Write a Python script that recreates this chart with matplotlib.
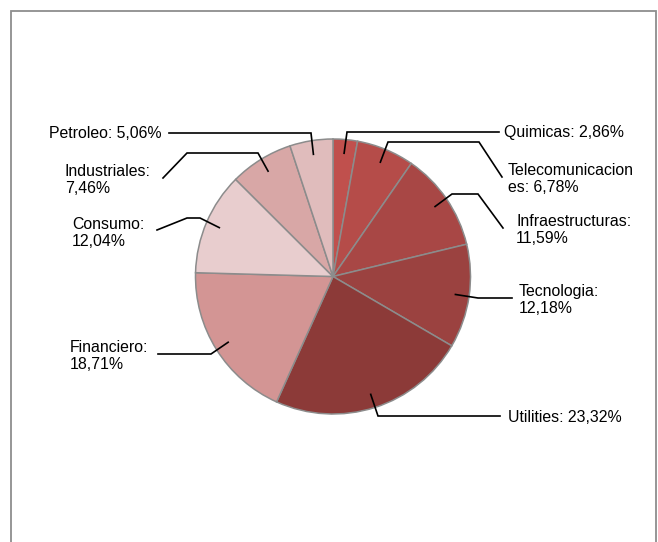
import numpy as np
import matplotlib
matplotlib.use("Agg")
import matplotlib.pyplot as plt

plt.rcParams['font.family'] = ['Liberation Sans', 'DejaVu Sans']

W, H = 658, 542

sectors = ["Quimicas", "Telecomunicaciones", "Infraestructuras", "Tecnologia",
           "Utilities", "Financiero", "Consumo", "Industriales", "Petroleo"]
shares = [2.86, 6.78, 11.59, 12.18, 23.32, 18.71, 12.04, 7.46, 5.06]
labels = ["Quimicas: 2,86%", "Telecomunicacion\nes: 6,78%", "Infraestructuras:\n11,59%",
          "Tecnologia:\n12,18%", "Utilities: 23,32%", "Financiero:\n18,71%",
          "Consumo:\n12,04%", "Industriales:\n7,46%", "Petroleo: 5,06%"]
colors = ["#C0504D", "#B54C49", "#A84745", "#9B4240", "#8C3A38",
          "#D39594", "#E8CDCE", "#D8A7A6", "#E0BCBC"]

# label layout in image pixels: (elbow points, text left x, text centre y)
layout = [
    ([(347, 132), (499, 132)], 504, 133),
    ([(388, 142), (479, 142), (502, 177)], 508, 179),
    ([(452, 194), (478, 194), (503, 228)], 516, 230),
    ([(478, 298), (512, 298)], 519, 300),
    ([(378, 416), (500, 416)], 508, 417),
    ([(211, 354), (158, 354)], 70, 356),
    ([(200, 218), (187, 218), (157, 230)], 72, 233),
    ([(258, 153), (187, 153), (163, 178)], 65, 180),
    ([(311, 133), (169, 133)], 49, 134),
]

cx, cy, r = 333, 276.5, 137.5

fig = plt.figure(figsize=(W / 100, H / 100), dpi=100)
ax = fig.add_axes([0, 0, 1, 1])

wedges, _ = ax.pie(shares, colors=colors, startangle=90, counterclock=False,
                   center=(cx, H - cy), radius=r,
                   wedgeprops=dict(edgecolor="#8c8c8c", linewidth=1.1))

for w, lab, (pts, tx, ty) in zip(wedges, labels, layout):
    mid = np.deg2rad((w.theta1 + w.theta2) / 2)
    x0 = cx + 0.9 * r * np.cos(mid)
    y0 = (H - cy) + 0.9 * r * np.sin(mid)
    xs = [x0] + [p[0] for p in pts]
    ys = [y0] + [H - p[1] for p in pts]
    ax.plot(xs, ys, color="black", lw=1.2, solid_joinstyle="miter")
    ax.text(tx, H - ty, lab, ha="left", va="center", multialignment="left",
            fontsize=11.4, linespacing=1.12, color="black")

# outer frame (no bottom edge)
fc = "#8e8e8e"
ax.plot([10.5, 10.5, 655.5, 655.5], [0, H - 10.5, H - 10.5, 0],
        color=fc, lw=1.3, clip_on=False, solid_joinstyle="miter")

ax.set_xlim(0, W)
ax.set_ylim(0, H)
ax.set_aspect("equal")
ax.axis("off")

fig.savefig("out.png", dpi=100, facecolor="white")
